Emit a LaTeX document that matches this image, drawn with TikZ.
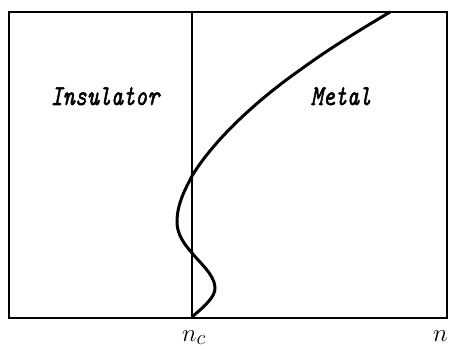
\documentclass[tikz,border=0pt]{standalone}
\usepackage{fontspec}
\newfontfamily\lblfont[FakeBold=2]{Latin Modern Mono}
\tikzset{
  frame/.style={line width=2pt},
  curve/.style={line width=3pt,line cap=round,line join=round},
  lbl/.style={inner sep=0pt,anchor=base,font=\fontsize{23pt}{26pt}\selectfont\lblfont\itshape},
  axl/.style={inner sep=0pt,font=\fontsize{30pt}{32pt}\selectfont}}
\begin{document}
\begin{tikzpicture}[x=1pt,y=1pt]
\useasboundingbox (0,0) rectangle (449,348);
\draw[frame] (9,30) rectangle (447,336);
\coordinate (top) at (192,336);
\coordinate (bot) at (192,30);
\draw[line width=1.8pt] (bot) -- (top);
\draw[curve] (193,32) .. controls (205,42) and (216,52) .. (215,61)
  .. controls (214,74) and (199,86) .. (192,95)
  .. controls (184,104) and (177,114) .. (177,126)
  .. controls (177,145) and (186,160) .. (192,172)
  .. controls (215,210) and (260,250) .. (300,278)
  .. controls (330,300) and (360,318) .. (390,336);
\node[lbl] (ins) at (105,243) {\scalebox{1}[1.25]{Insulator}};
\node[lbl] (met) at (341,243) {\scalebox{1}[1.25]{Metal}};
\node[axl,anchor=base west] (nc) at (182,7) {$n_c$};
\node[axl,anchor=base west] (n) at (433,7) {$n$};
\end{tikzpicture}
\end{document}
